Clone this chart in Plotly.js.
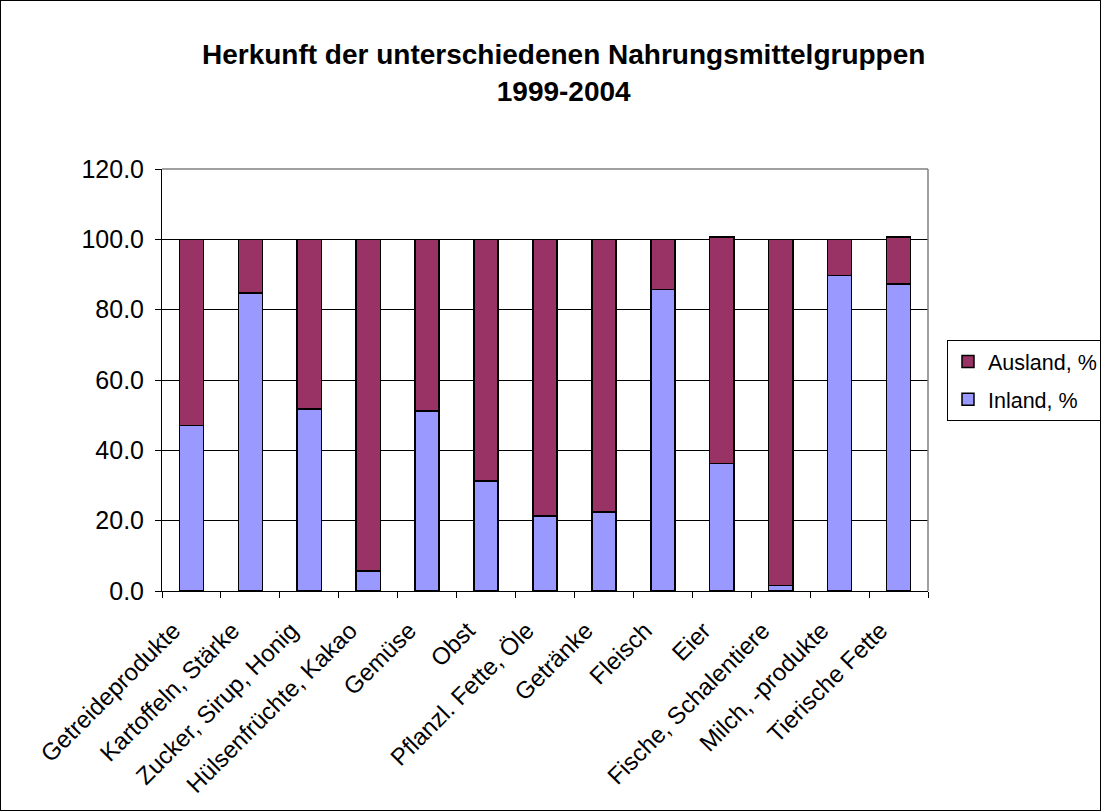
<!DOCTYPE html>
<html><head><meta charset="utf-8">
<script src="https://cdn.plot.ly/plotly-3.0.1.min.js"></script>
<style>body{margin:0;padding:0;background:#fff}#chart{width:1099px;height:809px;border:1px solid #000}</style>
</head><body><div id="chart"></div>
<script>
const categories = ["Getreideprodukte","Kartoffeln, Stärke","Zucker, Sirup, Honig","Hülsenfrüchte, Kakao","Gemüse","Obst","Pflanzl. Fette, Öle","Getränke","Fleisch","Eier","Fische, Schalentiere","Milch, -produkte","Tierische Fette"];
const inland = [47.0, 84.8, 51.7, 5.7, 51.2, 31.3, 21.3, 22.5, 85.8, 36.3, 1.5, 89.7, 87.3];
const ausland = [53.0, 15.2, 48.3, 94.3, 48.8, 68.7, 78.7, 77.5, 14.2, 64.3, 98.5, 10.3, 13.3];
const yTicks = [0, 20, 40, 60, 80, 100, 120];

const font = {family: "Arial, Liberation Sans, sans-serif", color: "#000"};
const data = [
  {type: "bar", name: "Inland, %", x: categories, y: inland, legendrank: 2, legendgroup: "in",
   marker: {color: "#9999ff", line: {color: "#000", width: 1.5}}},
  {type: "bar", name: "Ausland, %", x: categories, y: ausland, legendrank: 1, legendgroup: "aus",
   marker: {color: "#993366", line: {color: "#000", width: 1.5}}}
];
const layout = {
  width: 1099, height: 809,
  barmode: "stack", bargap: 0.59,
  paper_bgcolor: "#fff", plot_bgcolor: "#fff",
  margin: {l: 161, r: 172, t: 168, b: 219, autoexpand: false},
  font: Object.assign({size: 18}, font),
  title: {text: "<b>Herkunft der unterschiedenen Nahrungsmittelgruppen<br>1999-2004</b>",
          font: Object.assign({size: 28}, font), x: 0.512, xanchor: "center",
          yref: "container", y: 0.922, yanchor: "top"},
  xaxis: {type: "category", tickangle: -45, ticks: "outside", ticklen: 6, tickcolor: "#000",
          tickson: "boundaries", showline: true, linecolor: "#000", linewidth: 1, mirror: false,
          showgrid: false, tickfont: Object.assign({size: 24}, font), automargin: false,
          ticklabelstandoff: 15, ticklabelshift: -18},
  yaxis: {range: [0, 120], tickvals: yTicks, tickformat: ".1f", ticks: "outside", ticklen: 6,
          tickcolor: "#000", showline: true, linecolor: "#000", linewidth: 1,
          gridcolor: "#000", gridwidth: 1, zeroline: false, ticklabelstandoff: 6,
          tickfont: Object.assign({size: 25}, font), automargin: false},
  shapes: [
    {type: "line", xref: "paper", yref: "paper", x0: 0, x1: 1, y0: 1, y1: 1, line: {color: "#808080", width: 1.5}},
    {type: "line", xref: "paper", yref: "paper", x0: 1, x1: 1, y0: 0, y1: 1, line: {color: "#808080", width: 1.5}}
  ],
  showlegend: true,
  legend: {x: 1.0248, y: 0.595, xanchor: "left", yanchor: "top", traceorder: "grouped",
           bordercolor: "#000", borderwidth: 1, bgcolor: "#fff", tracegroupgap: 7,
           font: Object.assign({size: 21.5}, font), itemwidth: 30}
};
Plotly.newPlot("chart", data, layout, {displayModeBar: false, staticPlot: true});
</script></body></html>
